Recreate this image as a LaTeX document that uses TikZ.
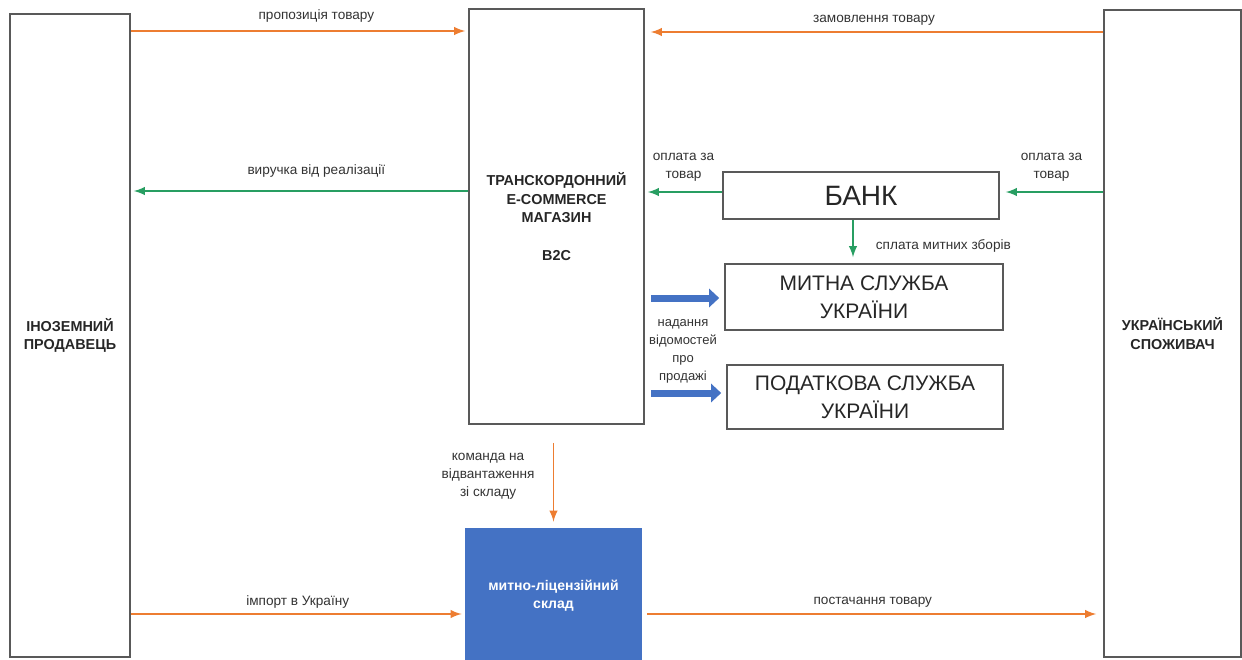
\documentclass[tikz,border=0pt]{standalone}
\usepackage{fontspec}
\setmainfont{Liberation Sans}
\usepackage{tikz}
\usetikzlibrary{positioning, arrows, arrows.meta}
\definecolor{flowor}{RGB}{237,125,49}
\definecolor{flowgr}{RGB}{40,158,98}
\definecolor{flowbl}{RGB}{68,114,196}
\newcommand{\colora}{flowor}
\newcommand{\colorb}{flowgr}
\newcommand{\colorc}{flowbl}
\newcommand{\boxline}{black!65}
\tikzset{
>=latex, % small filled arrow heads
actor/.style={draw=\boxline, line width=0.8pt, align=center, inner sep=0pt, text=black!85, font=\bfseries\fontsize{7.2pt}{9.3pt}\selectfont}, % the big side boxes
service/.style={draw=\boxline, line width=0.8pt, align=center, inner sep=0pt, text=black!85, font=\fontsize{10.5pt}{13.8pt}\selectfont}, % bank and state services
lbl/.style={text=black!80, font=\fontsize{6.8pt}{9pt}\selectfont, align=center, inner sep=1.5pt}, % text on the flows
goods/.style={->, color=\colora, line width=0.9pt, shorten >=1.5pt}, % goods and orders
money/.style={->, color=\colorb, line width=0.9pt, shorten >=1.5pt}, % payments
info/.style={-{Triangle[length=5pt,width=9pt]}, color=\colorc, line width=3.5pt}, % reports
}

\begin{document}
\begin{tikzpicture}[x=0.5pt, y=-0.5pt]
\useasboundingbox (0,0) rectangle (1242,659);

% boxes
\node[actor, minimum width=60pt, minimum height=321.5pt] (seller) at (70,335.5) {ІНОЗЕМНИЙ\\ПРОДАВЕЦЬ};
\node[actor, minimum width=68.5pt, minimum height=323.5pt] (consumer) at (1172.5,333.5) {УКРАЇНСЬКИЙ\\СПОЖИВАЧ};
\node[actor, minimum width=87.5pt, minimum height=207.5pt] (store) at (556.5,216.5) {ТРАНСКОРДОННИЙ\\E-COMMERCE\\МАГАЗИН\\[9.3pt]B2C};
\node[service, minimum width=138pt, minimum height=23.5pt, font=\fontsize{14pt}{16pt}\selectfont] (bank) at (861,195.5) {БАНК};
\node[service, minimum width=139pt, minimum height=33pt] (customs) at (864,297) {МИТНА СЛУЖБА\\УКРАЇНИ};
\node[service, minimum width=138pt, minimum height=32pt] (tax) at (865,397) {ПОДАТКОВА СЛУЖБА\\УКРАЇНИ};
\node[fill=\colorc, text=white, align=center, inner sep=0pt, minimum width=88.5pt, minimum height=68pt, font=\bfseries\fontsize{7pt}{9pt}\selectfont] (depot) at (553.5,596) {митно-ліцензійний\\склад};
\node[lbl, font=\fontsize{6.5pt}{9pt}\selectfont] (report) at (683,351) {надання\\відомостей\\про\\продажі};

% edges
\draw[goods] (seller.east |- 0,31) -- node[lbl, above=2.25pt, pos=0.55] {пропозиція товару} (store.west |- 0,31); % seller to store
\draw[goods, shorten >=3pt] (consumer.west |- 0,32) -- node[lbl, above=1.25pt] {замовлення товару} (store.east |- 0,32); % consumer to store
\draw[money] (store.west |- 0,191) -- node[lbl, above=4.75pt, pos=0.45] {виручка від реалізації} (seller.east |- 0,191); % store to seller
\draw[money] (bank.west |- 0,192) -- node[lbl, above=3.5pt] {оплата за\\товар} (store.east |- 0,192); % bank to store
\draw[money, shorten >=3pt] (consumer.west |- 0,192) -- node[lbl, above=3.5pt] {оплата за\\товар} (bank.east |- 0,192); % consumer to bank
\draw[money, shorten >=3pt] (bank.south -| 853,0) -- node[lbl, right=9.5pt, yshift=-2pt] {сплата митних зборів} (customs.north -| 853,0); % bank to customs
\draw[info, shorten <=3pt, shorten >=2.5pt] (store.east |- 0,298) -- (customs.west |- 0,298); % store to customs
\draw[info, shorten <=3pt, shorten >=2.5pt] (store.east |- 0,393) -- (tax.west |- 0,393); % store to tax
\draw[goods, shorten <=9pt, shorten >=3pt] (depot.north |- store.south) -- node[lbl, left=7.5pt] {команда на\\відвантаження\\зі складу} (depot.north); % store to depot
\draw[goods] (seller.east |- 0,614) -- node[lbl, above=0.75pt] {імпорт в Україну} (depot.west |- 0,614); % seller to depot
\draw[goods, shorten <=2.5pt, shorten >=3.5pt] (depot.east |- 0,614) -- node[lbl, above=1.25pt] {постачання товару} (consumer.west |- 0,614); % depot to consumer
\end{tikzpicture}
\end{document}
